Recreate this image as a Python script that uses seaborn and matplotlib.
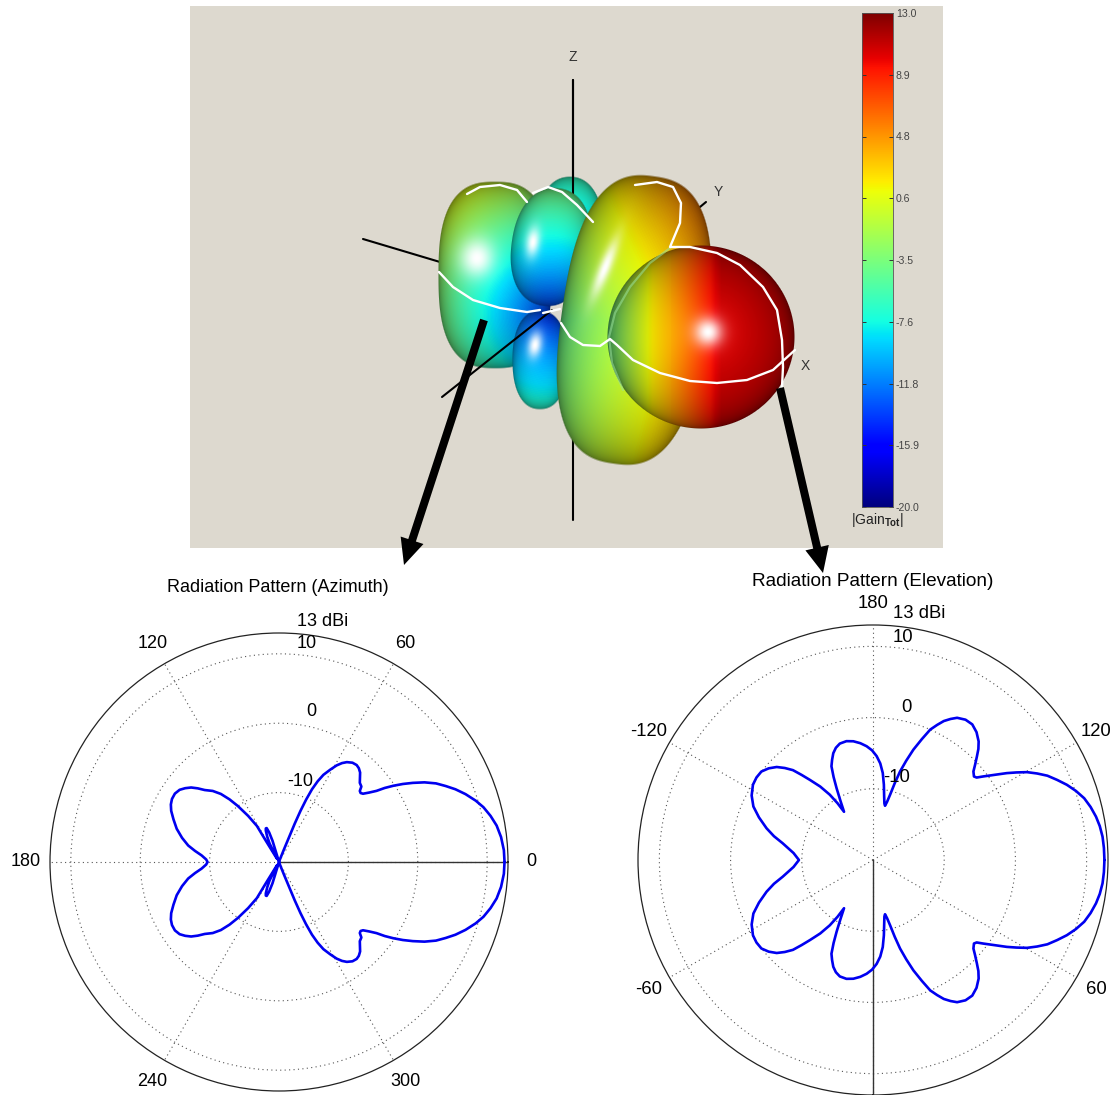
import numpy as np
import pandas as pd
import matplotlib
matplotlib.use("Agg")
import matplotlib.pyplot as plt
from matplotlib.patches import FancyArrow, Rectangle
import seaborn as sns

# azimuth cut, upper half (the pattern is mirrored about 0 deg)
az_angle = [0, 3, 6.4, 9.5, 12.3, 15, 17.3, 20, 22.4, 24.5, 26.6, 28.7, 30.6, 32.2, 33.7, 35, 36.1,
            37.6, 39.1, 40.2, 41.3, 42.5, 44.4, 47.8, 49.6, 51.3, 53.5, 55.8, 57.5, 59.2, 61, 63,
            64.4, 65.6, 66.5, 67.2, 67.7, 68, 68.5, 70, 90,
            105, 107, 108.4, 110, 111.4, 112.8, 115, 117, 120, 122, 121.8, 121.5, 123.8, 126.3,
            128.3, 130.5, 133, 135.9, 137.8, 139.7, 141.8, 144, 146.7, 149.5, 152, 154.6, 158,
            162, 166, 169.7, 172.5, 175.1, 178, 180]
az_gain = [12.5, 12.45, 12.2, 11.8, 11.2, 10.5, 9.7, 8.6, 7.5, 6.4, 5.3, 3.9, 2.4, 1.1, -0.2, -1.4, -2.6,
           -3.6, -4.4, -4.6, -4.5, -3.9, -3.7, -2.6, -2.25, -2.1, -2.2, -2.6, -3.1, -3.8, -4.8, -5.9,
           -7.1, -8.5, -10.2, -12, -14, -16.1, -18, -19.5, -20,
           -20, -16.8, -15.5, -14.8, -14.8, -15.1, -16, -17, -19.5, -19, -16.5, -13.9, -12, -10,
           -8.5, -7.1, -6, -5.1, -4.2, -3.4, -2.8, -2.3, -2.05, -2.1, -2.35, -2.8, -3.6,
           -4.5, -5.6, -6.7, -7.8, -8.8, -9.5, -9.7]

# elevation cut, offset from the 90 deg boresight (mirrored about it)
el_offset = [0, 3, 5.8, 8.5, 11, 13.7, 16.3, 18.8, 21.2, 23.5, 25.8, 27.8, 29.7, 31.4, 33, 34.4, 35.8,
             37.2, 38.5, 39.6, 41.4, 43, 44.9, 46.5, 48.3, 51, 53.8, 56.6, 59.4, 61.2, 63, 64.6, 66.3,
             68, 69.9, 71.5, 73, 74.2, 75.3, 76.4, 77.5, 78.6, 80.1, 81.8, 83.6, 85.7, 88, 90.5, 93.2,
             96.2, 99.4, 102.6, 105.9, 108.3, 110.4, 112.2, 113.9, 115.4, 116.9, 118.8, 121, 122,
             123.5, 125.7, 128.2, 130, 131.7, 133.8, 136, 138.7, 141.6, 144.7, 147.9, 152, 155.9,
             159.5, 163.4, 166.5, 169.5, 175, 180]
el_gain = [12.5, 12.47, 12.4, 12.2, 11.9, 11.45, 10.9, 10.1, 9.2, 8.2, 7.2, 6.05, 4.9, 3.6, 2.4, 1.3, 0.3,
           -0.6, -1.4, -1.6, -1.2, -0.4, 0.6, 1.5, 2.3, 3.1, 3.6, 3.6, 3.2, 2.6, 1.9, 1, 0,
           -1.7, -3.5, -5.3, -7, -8.8, -10.5, -11.6, -12.2, -11.9, -10.9, -9.3, -7.7, -6.4, -5.4, -4.6, -4,
           -3.5, -3.1, -2.9, -3, -3.4, -4, -4.8, -5.6, -7.1, -8.7, -10.5, -12.1, -10.6,
           -9, -7.3, -5.7, -4.4, -3.1, -2.1, -1.2, -0.5, 0, 0.05, -0.1, -0.7, -1.6,
           -2.9, -4.4, -5.7, -7.1, -8.8, -9.6]

cbar_ticks = [13, 8.875, 4.75, 0.625, -3.5, -7.625, -11.75, -15.875, -20]
cbar_labels = ["13.0", "8.9", "4.8", "0.6", "-3.5", "-7.6", "-11.8", "-15.9", "-20.0"]

W, H = 1115, 1095
sns.set_style("white")
plt.rcParams["font.family"] = ["Liberation Sans", "DejaVu Sans"]
plt.rcParams["mathtext.fontset"] = "custom"
plt.rcParams["mathtext.rm"] = "Liberation Sans"
plt.rcParams["mathtext.bf"] = "Liberation Sans:bold"

fig = plt.figure(figsize=(W / 100, H / 100), dpi=100, facecolor="white")


def px_rect(x0, y0, x1, y1):
    return [x0 / W, 1 - y1 / H, (x1 - x0) / W, (y1 - y0) / H]


def label(x, y, s, size=13, color="black"):
    fig.text(x / W, 1 - y / H, s, fontsize=size, color=color, ha="center", va="center")


# overlay in pixel coordinates for the 3D picture
ov = fig.add_axes([0, 0, 1, 1])
ov.set_axis_off()
ov.add_patch(Rectangle((190, 6), 753, 542, fc="#DDD9CF", ec="none", zorder=0))


def blob(cx, cy, ax_x, ax_y, tilt, p, field, spec, zorder, glow=0.15):
    x0, x1 = int(cx - 170), int(cx + 170)
    y0, y1 = int(cy - 170), int(cy + 170)
    xx, yy = np.meshgrid(np.arange(x0, x1) + 0.5, np.arange(y0, y1) + 0.5)
    t = np.radians(tilt)
    u = ((xx - cx) * np.cos(t) + (yy - cy) * np.sin(t)) / ax_x
    v = (-(xx - cx) * np.sin(t) + (yy - cy) * np.cos(t)) / ax_y
    d = (np.abs(u) ** p + np.abs(v) ** p) ** (1 / p)
    nz = np.sqrt(np.clip(1 - d ** 2, 0, 1))
    val = np.clip(field(xx, yy), -20, 13)
    rgb = plt.get_cmap("jet")((val + 20) / 33)[..., :3]
    rgb = rgb * (0.28 + 0.72 * nz[..., None] ** 0.75)
    hx, hy, sx, sy, rot = spec
    r = np.radians(rot)
    a = ((xx - hx) * np.cos(r) + (yy - hy) * np.sin(r)) / sx
    b = (-(xx - hx) * np.sin(r) + (yy - hy) * np.cos(r)) / sy
    s = np.exp(-(a ** 2 + b ** 2))[..., None]
    wide = glow * np.exp(-(a ** 2 + b ** 2) / 5)[..., None]
    rgb = rgb * (1 - wide) + wide * np.clip(rgb * 1.4 + 0.1, 0, 1)
    rgb = rgb * (1 - s) + s
    alpha = np.clip((1 - d) * min(ax_x, ax_y), 0, 1)
    ov.imshow(np.dstack([rgb, alpha]), extent=[x0, x1, y1, y0], aspect="auto",
              interpolation="bilinear", zorder=zorder)


def back_field(slope):
    return lambda x, y: -14 + slope * np.hypot(x - 550, y - 315)


ov.plot([573, 573], [80, 520], color="black", lw=1.5, zorder=1)
ov.plot([363, 440], [239, 262], color="black", lw=1.5, zorder=1)
ov.plot([700, 706], [207, 202], color="black", lw=1.5, zorder=1)

blob(570, 226, 33, 50, 0, 2.2, back_field(0.055), (570, 240, 4, 6, 0), 2, glow=0.0)
ov.plot([573, 573], [80, 198], color="black", lw=1.5, zorder=2.5)
blob(495, 275, 57, 94, 0, 2.7, back_field(0.095), (477, 258, 17, 19, 0), 3)
blob(551, 247, 40, 60, 8, 2.2, back_field(0.08), (533, 242, 7, 15, 8), 4)
blob(540, 360, 28, 50, 0, 2.3, back_field(0.075), (535, 345, 7, 13, 10), 3.5)
ov.plot([442, 552], [397, 310], color="black", lw=1.5, zorder=4.5)
blob(634, 320, 73, 146, 8, 2.6,
     lambda x, y: -2.2 + 0.05 * (x - 600) + 0.012 * np.abs(y - 320) + 0.012 * np.clip(320 - y, 0, None),
     (605, 268, 6, 30, 22), 5)
blob(701, 337, 94, 92, 0, 2.0,
     lambda x, y: np.minimum(-3.5 + 0.13 * (x - 612), 10.8),
     (708, 332, 14, 14, 0), 6, glow=0.5)

# lighter ridge where the main lobe meets the ring
ridge_x = [670, 650, 630, 615, 609, 612, 623]
ridge_y = [248, 263, 287, 313, 337, 363, 390]
ov.plot(ridge_x, ridge_y, color="#9BE39B", lw=1.6, alpha=0.55, zorder=6.5)

cut_lines = [
    ([467, 480, 500, 517, 527], [194, 187, 185, 190, 202]),
    ([533, 548, 562, 577, 593], [193, 187, 192, 205, 222]),
    ([439, 453, 473, 500, 527, 540], [272, 287, 300, 308, 312, 310]),
    ([543, 560], [313, 309]),
    ([561, 570, 583, 600, 610, 617, 633, 660, 690, 717, 747, 773, 795],
     [323, 337, 345, 346, 339, 345, 360, 373, 381, 383, 380, 370, 350]),
    ([635, 657, 673, 681, 680, 670, 690, 717, 740, 763, 777, 782, 783, 782],
     [185, 182, 187, 203, 223, 247, 247, 253, 265, 287, 310, 340, 367, 387]),
]
for cx, cy in cut_lines:
    ov.plot(cx, cy, color="white", lw=1.7, zorder=7, solid_joinstyle="round")

ov.add_patch(FancyArrow(484, 320, -80, 245, width=8, head_width=24, head_length=26,
                        length_includes_head=True, fc="black", ec="none", zorder=8))
ov.add_patch(FancyArrow(780, 388, 43, 185, width=8, head_width=24, head_length=26,
                        length_includes_head=True, fc="black", ec="none", zorder=8))
ov.set_xlim(0, W)
ov.set_ylim(H, 0)

label(573, 57, "Z", 10, "#333333")
label(718, 192, "Y", 10, "#333333")
label(805, 366, "X", 10, "#333333")

# colour bar
cax = fig.add_axes(px_rect(862, 13, 893, 507))
cax.imshow(np.linspace(13, -20, 256)[:, None], cmap="jet", vmin=-20, vmax=13, aspect="auto",
           extent=[0, 1, -20, 13])
cax.set_xticks([])
cax.set_yticks(cbar_ticks, cbar_labels)
cax.tick_params(axis="y", left=True, right=True, labelleft=False, labelright=True, direction="in",
                length=3, width=0.7, pad=2, labelsize=7.6, labelcolor="#444444", color="#333333")
for s in cax.spines.values():
    s.set_linewidth(0.6)
    s.set_color("#555555")
label(877, 520, r"|Gain$_{\mathbf{Tot}}$|", 10, "#222222")


def polar_panel(rect, zero, direction, solid_at, angle, gain):
    ax = fig.add_axes(rect, projection="polar", facecolor="none")
    ax.set_theta_zero_location(zero)
    ax.set_theta_direction(direction)
    data = pd.DataFrame({"theta": np.radians(angle), "gain": gain})
    ax.plot([np.radians(solid_at)] * 2, [-20, 13], color="#333333", lw=1)
    sns.lineplot(data=data, x="theta", y="gain", sort=False, estimator=None, color="#0000F0",
                 lw=1.9, ax=ax, legend=False)
    ax.set_rlim(-20, 13)
    ax.set_yticks([-10, 0, 10], [])
    ax.set_xticks(np.radians([0, 60, 120, 180, 240, 300]), [])
    ax.set_xlabel("")
    ax.set_ylabel("")
    ax.grid(True, color="#555555", ls=(0, (1, 3)), lw=0.8)
    ax.spines["polar"].set_color("#222222")
    ax.spines["polar"].set_linewidth(0.9)
    return ax


az_half = np.array(az_angle)
az_full = np.r_[az_half, 360 - az_half[::-1]]
az_vals = np.r_[az_gain, az_gain[::-1]]
polar_panel(px_rect(50, 633, 508, 1091), "E", 1, 0, az_full, az_vals)

el_half = np.array(el_offset)
el_full = np.r_[90 + el_half, 90 - el_half[::-1]]
el_vals = np.r_[el_gain, el_gain[::-1]]
polar_panel(px_rect(638, 625, 1108, 1095), "S", 1, 0, el_full, el_vals)

label(278, 588, "Radiation Pattern (Azimuth)")
for x, y, s in [(153, 643, "120"), (405, 643, "60"), (531, 862, "0"), (26, 862, "180"),
                (152, 1082, "240"), (405, 1082, "300"), (323, 621, "13 dBi"), (307, 643, "10"),
                (311, 712, "0"), (300, 782, "-10")]:
    label(x, y, s)

label(873, 581, "Radiation Pattern (Elevation)", 13.7)
for x, y, s in [(873, 603, "180"), (919, 614, "13 dBi"), (903, 637, "10"), (906, 707, "0"),
                (897, 778, "-10"), (1096, 732, "120"), (649, 732, "-120"), (1096, 990, "60"),
                (649, 990, "-60")]:
    label(x, y, s, 13.3)

fig.savefig("out.png", dpi=100)
